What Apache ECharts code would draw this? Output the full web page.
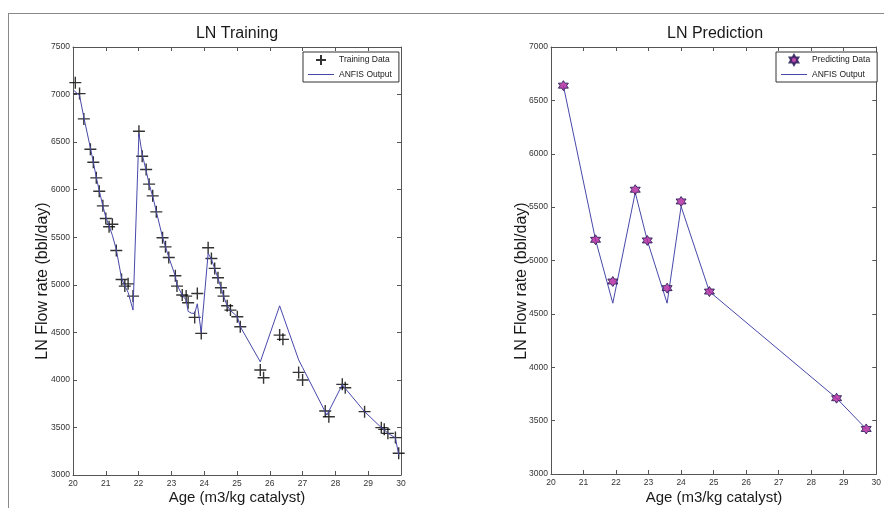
<!DOCTYPE html>
<html>
<head>
<meta charset="utf-8">
<script src="https://cdn.jsdelivr.net/npm/echarts@6/dist/echarts.min.js"></script>
<style>
html,body{margin:0;padding:0;background:#fff;}
#c{width:884px;height:508px;}
#err{position:absolute;left:100px;top:100px;color:red;font-size:12px;}
</style>
</head>
<body>
<div id="c"></div>
<div id="err"></div>
<script>
// ---- data ----
const trainX = [20.07,20.20,20.33,20.53,20.62,20.71,20.80,20.91,21.00,21.10,21.20,21.32,21.48,21.58,21.68,21.83,
  22.01,22.11,22.23,22.32,22.43,22.54,22.73,22.82,22.92,23.12,23.17,23.33,23.45,23.51,23.71,23.79,23.91,
  24.12,24.22,24.32,24.42,24.51,24.59,24.70,24.80,25.01,25.10,25.71,25.81,26.30,26.40,26.88,27.00,
  27.69,27.80,28.21,28.30,28.89,29.40,29.49,29.60,29.83,29.93];
const trainY = [7125,7010,6744,6425,6289,6124,5984,5830,5697,5610,5637,5361,5056,4986,5010,4881,
  6614,6352,6212,6058,5935,5767,5494,5399,5287,5095,4986,4892,4881,4811,4657,4909,4489,
  5389,5277,5172,5074,4968,4881,4779,4734,4664,4559,4104,4023,4471,4426,4079,3999,
  3673,3613,3953,3918,3666,3498,3480,3438,3393,3228];
const anfisTrainX = [20.02,20.20,20.33,20.53,20.62,20.71,20.80,20.91,21.00,21.10,21.20,21.32,21.48,21.58,21.68,21.83,
  22.01,22.11,22.23,22.32,22.43,22.54,22.73,22.82,22.92,23.12,23.17,23.33,23.45,23.51,23.62,23.71,23.79,23.91,
  24.12,24.22,24.32,24.42,24.51,24.59,24.70,24.80,25.01,25.10,25.71,26.30,26.88,27.00,27.74,28.21,28.30,
  28.89,29.40,29.49,29.60,29.83,29.93];
const anfisTrainY = [7045,6990,6760,6440,6290,6130,5990,5830,5710,5620,5520,5370,5070,4990,4920,4734,
  6590,6370,6200,6060,5930,5770,5500,5400,5290,5090,5000,4890,4840,4720,4700,4700,4800,4500,
  5330,5270,5170,5070,4970,4880,4780,4730,4665,4560,4190,4779,4210,4130,3630,3950,3910,
  3666,3498,3475,3440,3390,3210];
const predX = [20.38,21.37,21.90,22.59,22.96,23.57,24.00,24.87,28.78,29.69];
const predY = [6638,5194,4803,5663,5188,4741,5553,4709,3710,3422];
const anfisPredY = [6638,5194,4600,5637,5188,4600,5506,4709,3710,3422];
const xTicks = {min:20, max:30, interval:1};
const yTicksTrain = {min:3000, max:7500, interval:500};
const yTicksPred = {min:3000, max:7000, interval:500};
const titles = ['LN Training','LN Prediction'];
const legendTrain = ['Training Data','ANFIS Output'];
const legendPred = ['Predicting Data','ANFIS Output '];
const xName = 'Age (m3/kg catalyst)';
const yName = 'LN Flow rate (bbl/day)';

// ---- chart ----
const FONT = '"Liberation Sans", Arial, sans-serif';
const lineColor = '#4848aa';
const axisColor = '#555';
const pairs = (xs, ys) => xs.map((x, i) => [x, ys[i]]);
const plusPath = 'path://M5,0L5,10M0,5L10,5';
const hexPath = 'path://M0,-10L2.887,-5L8.66,-5L5.774,0L8.66,5L2.887,5L0,10L-2.887,5L-8.66,5L-5.774,0L-8.66,-5L-2.887,-5Z';
const lineIcon = 'path://M0,0L26,0L26,1L0,1Z';

function xAx(grid, pos) {
  return {type:'value', gridIndex:grid, position:pos, min:xTicks.min, max:xTicks.max, interval:xTicks.interval,
    axisLine:{show:true, onZero:false, lineStyle:{color:axisColor, width:1}},
    axisTick:{show:true, inside:true, length:4, lineStyle:{color:axisColor}},
    axisLabel:{show:pos==='bottom', fontSize:8.5, color:'#333', margin:4, fontFamily:FONT, formatter:v=>String(v)},
    splitLine:{show:false}};
}
function yAx(grid, pos, t) {
  return {type:'value', gridIndex:grid, position:pos, min:t.min, max:t.max, interval:t.interval,
    axisLine:{show:true, onZero:false, lineStyle:{color:axisColor, width:1}},
    axisTick:{show:true, inside:true, length:4, lineStyle:{color:axisColor}},
    axisLabel:{show:pos==='left', fontSize:8.5, color:'#333', margin:3, fontFamily:FONT, formatter:v=>String(v)},
    splitLine:{show:false}};
}
function txt(text, x, y, size, rot) {
  return {type:'text', x:x, y:y, rotation:rot||0, silent:true,
    style:{text:text, fill:'#1a1a1a', font:'normal ' + size + 'px ' + FONT, align:'center', verticalAlign:'middle'}};
}
function leg(left, names) {
  return {show:true, left:left, top:52, orient:'vertical', padding:[2,7,3,5], itemWidth:26, itemHeight:10, itemGap:4,
     borderColor:'#333', borderWidth:1, backgroundColor:'#fff', selectedMode:false,
     textStyle:{fontSize:8.5, color:'#222', fontFamily:FONT},
     data:[names[0], {name:names[1], icon:lineIcon, itemStyle:{color:lineColor, borderWidth:0}}]};
}

try {
const chart = echarts.init(document.getElementById('c'), null, {renderer:'canvas'});
chart.setOption({
  backgroundColor:'#fff',
  animation:false,
  grid:[
    {left:73, top:47, width:328, height:428},
    {left:551, top:47, width:328, height:427}
  ],
  xAxis:[xAx(0,'bottom'), xAx(0,'top'), xAx(1,'bottom'), xAx(1,'top')],
  yAxis:[yAx(0,'left',yTicksTrain), yAx(0,'right',yTicksTrain), yAx(1,'left',yTicksPred), yAx(1,'right',yTicksPred)],
  legend:[leg(303, legendTrain), leg(776, legendPred)],
  series:[
    {name:legendTrain[1], type:'line', xAxisIndex:0, yAxisIndex:0, data:pairs(anfisTrainX, anfisTrainY),
     symbol:'none', lineStyle:{color:lineColor, width:1}, itemStyle:{color:lineColor}, z:3},
    {name:legendTrain[0], type:'scatter', xAxisIndex:0, yAxisIndex:0, data:pairs(trainX, trainY),
     symbol:plusPath, symbolSize:12, itemStyle:{color:'rgba(0,0,0,0)', borderColor:'#000', borderWidth:1.4}, z:2},
    {name:legendPred[1], type:'line', xAxisIndex:2, yAxisIndex:2, data:pairs(predX, anfisPredY),
     symbol:'none', lineStyle:{color:lineColor, width:1}, itemStyle:{color:lineColor}, z:2},
    {name:legendPred[0], type:'scatter', xAxisIndex:2, yAxisIndex:2, data:pairs(predX, predY),
     symbol:hexPath, symbolSize:10, itemStyle:{color:'#b0209c', borderColor:'#1c1450', borderWidth:1}, z:3}
  ],
  graphic:[
    {type:'line', silent:true, shape:{x1:8, y1:13.5, x2:884, y2:13.5}, style:{stroke:'#8a8a8a', lineWidth:1}},
    {type:'line', silent:true, shape:{x1:8.5, y1:13, x2:8.5, y2:508}, style:{stroke:'#8a8a8a', lineWidth:1}},
    txt(titles[0], 237, 33.5, 16),
    txt(titles[1], 715, 33.5, 16),
    txt(xName, 237, 498, 15),
    txt(xName, 714, 498, 15),
    txt(yName, 43, 281, 16, Math.PI/2),
    txt(yName, 522, 281, 16, Math.PI/2)
  ]
});
} catch (e) { document.getElementById('err').textContent = String(e && e.stack || e); }
</script>
</body>
</html>
